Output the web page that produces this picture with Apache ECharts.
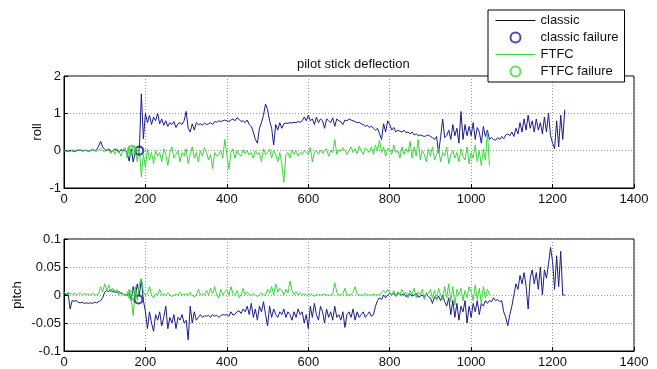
<!DOCTYPE html>
<html><head><meta charset="utf-8">
<script src="https://cdn.jsdelivr.net/npm/echarts@6/dist/echarts.min.js"></script>
<style>html,body{margin:0;padding:0;background:#fff}#c{width:657px;height:369px}</style>
</head><body><div id="c"></div>
<script>
// sample spacing of the time axis (x values are i*STEP)
const STEP = 5;
const xTicks = [0, 200, 400, 600, 800, 1000, 1200, 1400];
const rollTicks = [-1, 0, 1, 2];
const pitchTicks = [-0.1, -0.05, 0, 0.05, 0.1];

const classicRoll = [
 0.02,0.0,-0.02,0.01,0.0,-0.03,0.01,0.0,0.02,-0.01, 0.0,0.01,-0.02,0.0,0.03,0.0,0.02,0.12,0.25,0.1,
 0.03,0.0,0.05,-0.02,0.0,0.04,0.02,-0.05,0.03,0.0, 0.02,-0.05,-0.28,0.05,-0.3,-0.05,0.0,0.0,1.52,0.32,
 1.0,0.75,0.95,0.7,0.9,0.8,1.0,0.72,0.85,0.68, 0.8,0.65,0.75,0.7,0.78,0.62,0.72,0.75,0.7,0.8,
 1.05,0.6,0.5,0.72,0.55,0.75,0.7,0.72,0.68,0.74, 0.7,0.72,0.75,0.7,0.78,0.76,0.8,0.78,0.8,0.82,
 0.8,0.78,0.82,0.85,0.8,0.88,0.84,0.78,0.8,0.75, 0.82,0.7,0.65,0.5,0.3,0.2,0.6,0.75,0.95,1.25,
 1.1,0.8,0.6,0.15,0.7,0.55,0.75,0.6,0.72,0.74, 0.73,0.75,0.74,0.76,0.75,0.78,0.76,0.8,0.9,0.8,
 0.95,0.8,0.85,0.7,0.9,0.75,0.85,0.8,0.6,0.85, 0.8,0.75,0.88,0.65,0.85,0.8,0.78,0.7,0.82,0.8,
 0.85,0.82,0.8,0.78,0.75,0.76,0.72,0.7,0.65,0.68, 0.62,0.66,0.6,0.55,0.6,0.45,0.3,0.72,0.5,0.8,
 0.7,0.55,0.62,0.5,0.55,0.52,0.5,0.55,0.48,0.5, 0.45,0.5,0.42,0.45,0.4,0.42,0.4,0.38,0.4,0.42,
 0.38,0.35,0.3,0.38,-0.05,0.35,0.85,0.35,0.4,0.55, 0.3,0.7,0.4,0.6,0.2,1.05,0.3,0.7,0.4,0.65,
 0.4,0.75,0.3,0.62,0.5,0.2,0.65,0.38,0.55,0.3, 0.35,0.3,0.28,0.35,0.3,0.38,0.32,0.42,0.45,0.4,
 0.5,0.38,0.6,0.45,0.75,0.5,0.85,0.55,0.95,0.6, 0.8,0.5,0.85,0.55,0.75,0.45,0.9,0.5,1.0,0.4,
 0.2,0.05,0.8,0.1,0.95,0.3,1.1
];
const ftfcRoll = [
 0.0,-0.02,0.01,-0.03,0.02,0.0,-0.02,0.03,0.0,-0.01, 0.02,0.0,-0.03,0.01,0.04,0.0,-0.02,0.02,0.05,0.0,
 -0.03,0.04,0.0,-0.08,0.02,-0.1,0.05,-0.02,-0.15,0.03, 0.08,-0.2,0.1,-0.12,0.12,0.05,-0.3,0.08,-0.7,-0.1,
 -0.45,0.05,-0.25,-0.05,-0.35,0.0,-0.15,-0.05,-0.3,0.05, -0.1,-0.4,-0.05,0.1,-0.2,-0.1,0.0,-0.3,-0.05,-0.15,
 0.05,-0.35,-0.1,0.1,-0.2,-0.05,-0.3,0.0,-0.15,0.08, -0.05,-0.25,-0.1,-0.48,-0.05,-0.15,-0.1,0.0,-0.2,0.3,
 -0.1,-0.5,-0.05,0.05,-0.2,0.0,-0.1,-0.15,0.02,-0.08, 0.0,-0.12,-0.05,-0.2,0.0,-0.1,-0.05,-0.3,0.05,-0.1,
 -0.05,0.05,-0.2,0.0,-0.1,-0.3,-0.05,-0.35,-0.85,-0.1, -0.05,-0.2,0.02,-0.1,0.0,-0.15,-0.05,-0.1,0.0,-0.05,
 -0.1,0.08,-0.3,-0.05,0.0,-0.1,0.02,-0.08,0.0,0.05, -0.15,0.0,-0.05,0.3,-0.1,0.02,-0.02,0.08,0.0,-0.1,
 0.0,0.1,-0.05,0.05,-0.08,0.12,0.0,-0.1,0.08,0.02, -0.05,0.1,-0.1,0.15,0.0,0.28,-0.05,0.1,-0.15,0.05,
 0.05,-0.1,0.15,-0.05,0.0,-0.2,0.1,-0.1,0.05,-0.05, 0.25,-0.2,0.1,-0.15,0.3,-0.25,0.0,-0.1,-0.3,0.05,
 -0.15,0.1,-0.25,-0.1,0.05,-0.3,-0.05,-0.15,0.1,-0.35, -0.1,0.0,-0.2,-0.05,-0.3,0.05,-0.15,-0.25,0.1,-0.35,
 -0.05,-0.2,0.15,-0.3,0.0,-0.4,0.05,-0.25,0.5,-0.4
];
const classicPitch = [
 0.003,0.0,0.004,-0.025,-0.01,-0.011,-0.01,-0.013,-0.014,-0.013, -0.015,-0.014,-0.015,-0.014,-0.015,-0.013,-0.014,-0.012,-0.01,-0.005,
 0.005,0.008,0.006,0.01,0.005,0.008,0.004,0.006,0.003,0.002, 0.0,0.0,0.004,-0.01,0.015,-0.005,0.02,0.0,0.027,-0.01,
 -0.03,-0.06,-0.03,-0.05,-0.065,-0.035,-0.045,-0.03,-0.055,-0.04, -0.02,-0.06,-0.04,-0.05,-0.035,-0.06,-0.04,-0.045,-0.035,-0.05,
 -0.045,-0.08,-0.02,-0.05,-0.03,-0.045,-0.04,-0.035,-0.04,-0.037, -0.038,-0.036,-0.04,-0.035,-0.038,-0.036,-0.04,-0.037,-0.035,-0.036,
 -0.035,-0.038,-0.03,-0.036,-0.034,-0.03,-0.028,-0.033,-0.025,-0.03, -0.02,-0.035,-0.015,-0.04,-0.025,-0.045,-0.02,-0.03,-0.012,-0.035,
 -0.055,-0.02,-0.04,-0.025,-0.035,-0.04,-0.03,-0.035,-0.025,-0.04, -0.03,-0.035,-0.045,-0.03,-0.04,-0.025,-0.035,-0.03,-0.05,-0.035,
 -0.06,-0.02,-0.04,-0.015,-0.035,-0.045,-0.02,-0.03,-0.05,-0.025, -0.04,-0.03,-0.045,-0.02,-0.04,-0.035,-0.045,-0.03,-0.058,-0.035,
 -0.03,-0.04,-0.025,-0.045,-0.03,-0.04,-0.035,-0.03,-0.04,-0.035, -0.03,-0.038,-0.035,-0.02,-0.01,-0.005,-0.008,0.0,-0.005,0.0,
 0.003,0.0,0.004,-0.002,0.003,0.001,0.0,0.002,-0.003,0.0, 0.002,-0.002,0.0,0.003,-0.004,-0.002,0.0,-0.005,0.002,-0.003,
 -0.005,-0.015,-0.003,-0.008,-0.002,-0.01,0.0,-0.012,-0.02,-0.005, -0.035,-0.01,-0.04,-0.015,-0.045,-0.02,-0.03,-0.01,-0.05,-0.02,
 -0.04,-0.015,-0.03,-0.01,-0.035,-0.015,-0.02,-0.01,-0.015,-0.01, -0.012,-0.005,-0.01,-0.008,-0.012,-0.01,-0.03,-0.04,-0.055,-0.035,
 -0.02,0.0,0.02,0.01,0.035,0.02,0.04,0.015,-0.025,0.03, 0.045,0.02,0.04,0.01,0.05,0.0,0.045,0.03,0.055,0.085,
 0.06,0.01,0.07,0.015,0.078,0.0,0.0
];
const ftfcPitch = [
 0.005,0.002,0.0,0.004,0.001,0.003,0.0,0.002,0.004,0.0, 0.003,0.001,0.002,0.0,0.003,0.001,0.0,0.002,0.015,0.005,
 0.02,0.008,0.018,0.005,0.012,0.003,0.01,0.0,0.005,0.002, 0.0,0.003,0.01,-0.005,-0.037,0.015,-0.01,0.02,0.03,0.005,
 0.0,0.003,0.015,0.0,-0.005,0.002,0.0,0.01,0.0,0.002, 0.0,0.004,0.0,-0.003,0.0,0.002,0.0,0.005,0.0,0.001,
 0.002,0.0,0.005,0.0,-0.004,0.0,0.01,0.0,0.003,0.0, 0.008,0.0,0.012,0.002,0.015,0.0,-0.005,0.01,0.0,0.006,
 0.01,0.0,0.015,0.002,0.0,0.008,-0.005,0.0,0.012,0.0, 0.005,0.0,0.0,0.003,0.0,-0.003,0.0,0.004,0.0,0.0,
 0.01,0.003,0.015,0.0,0.02,0.005,0.012,0.008,0.0,0.01, 0.003,0.025,0.008,0.0,0.006,0.0,0.004,0.0,0.002,0.0,
 0.0,0.002,0.0,-0.002,0.0,0.001,0.0,0.0,0.002,0.0, 0.0,0.0,0.001,0.022,0.005,0.0,0.0,0.002,0.012,0.0,
 0.0,0.0,0.005,0.015,0.002,0.0,0.0,0.0,0.003,0.0, 0.0,0.0,0.002,0.0,0.001,0.0,0.005,0.008,0.003,0.01,
 0.005,0.0,0.008,-0.003,0.006,0.0,0.01,0.002,0.005,-0.005, 0.008,0.0,0.012,-0.005,0.006,0.0,0.01,-0.008,0.005,0.002,
 0.01,-0.005,0.008,-0.01,0.012,0.0,-0.008,0.015,-0.005,0.02, -0.012,0.015,-0.018,0.01,0.0,0.012,-0.01,0.008,-0.005,0.015,
 0.005,-0.01,0.018,-0.008,0.012,-0.015,0.015,-0.005,0.01,0.0
];
// failure markers [x, y]
const classicFailRoll = [[185, 0.0]];
const ftfcFailRoll = [[167, 0.02]];
const classicFailPitch = [[183, -0.008]];
const ftfcFailPitch = [[168, 0.0]];

const CLASSIC = '#1c1c8a';
const FTFC = '#3ad83a';
const FONT = '"Liberation Sans", Arial, sans-serif';

function pairs(vals) { return vals.map((v, i) => [i * STEP, v]); }

const chart = echarts.init(document.getElementById('c'), null, {renderer: 'canvas'});

function xAxis(gi) {
  return {
    gridIndex: gi, type: 'value', min: 0, max: 1400, interval: 200,
    axisLine: {show: true, onZero: false, lineStyle: {color: '#000', width: 1}},
    axisTick: {show: true, inside: true, length: 4, lineStyle: {color: '#000'}},
    axisLabel: {color: '#111', fontSize: 13, fontFamily: FONT, margin: 5,
      formatter: v => xTicks.indexOf(v) >= 0 ? String(v) : ''},
    splitLine: {show: true, lineStyle: {color: '#999', type: [1, 2], width: 1}}
  };
}
function yAxis(gi, min, max, interval, name, gap, ticks) {
  return {
    gridIndex: gi, type: 'value', min, max, interval,
    name, nameLocation: 'middle', nameGap: gap, nameMoveOverlap: false,
    nameTextStyle: {color: '#111', fontSize: 13, fontFamily: FONT},
    axisLine: {show: true, lineStyle: {color: '#000', width: 1}},
    axisTick: {show: true, inside: true, length: 4, lineStyle: {color: '#000'}},
    axisLabel: {color: '#111', fontSize: 13, fontFamily: FONT, margin: 3,
      formatter: v => { const t = ticks.find(k => Math.abs(k - v) < 1e-9); return t === undefined ? '' : String(t); }},
    splitLine: {show: true, lineStyle: {color: '#999', type: [1, 2], width: 1}}
  };
}
function lineSeries(name, vals, color, gi, w) {
  return {name, type: 'line', xAxisIndex: gi, yAxisIndex: gi, data: pairs(vals),
    symbol: 'none', showSymbol: false, animation: false,
    lineStyle: {color, width: w}, itemStyle: {color}};
}
function failSeries(name, data, color, gi) {
  return {name, type: 'scatter', xAxisIndex: gi, yAxisIndex: gi, data,
    symbol: 'circle', symbolSize: 8, animation: false, z: 5,
    itemStyle: {color: 'rgba(0,0,0,0)', borderColor: color, borderWidth: 2.2}};
}

chart.setOption({
  backgroundColor: '#fff',
  animation: false,
  title: {text: 'pilot stick deflection', left: 292, top: 53,
    textStyle: {fontSize: 13, fontWeight: 'normal', color: '#111', fontFamily: FONT}},
  legend: {
    orient: 'vertical', left: 488, top: 10,
    backgroundColor: '#fff', borderColor: '#000', borderWidth: 1,
    padding: [4, 6, 4, 7], itemGap: 4, itemWidth: 40, itemHeight: 10,
    textStyle: {fontSize: 13, color: '#111', fontFamily: FONT},
    data: [
      {name: 'classic', itemStyle: {opacity: 0}, lineStyle: {color: '#111', width: 1}},
      'classic failure',
      {name: 'FTFC', itemStyle: {opacity: 0}, lineStyle: {color: FTFC, width: 1}},
      'FTFC failure'
    ]
  },
  grid: [
    {left: 64, right: 23, top: 76, height: 112, show: true, borderColor: '#000', borderWidth: 1, backgroundColor: '#fff'},
    {left: 64, right: 23, top: 239, height: 113, show: true, borderColor: '#000', borderWidth: 1, backgroundColor: '#fff'}
  ],
  xAxis: [xAxis(0), xAxis(1)],
  yAxis: [
    yAxis(0, -1, 2, 1, 'roll', 20, rollTicks),
    yAxis(1, -0.1, 0.1, 0.05, 'pitch', 40, pitchTicks)
  ],
  series: [
    lineSeries('classic', classicRoll, CLASSIC, 0, 1),
    lineSeries('FTFC', ftfcRoll, FTFC, 0, 1),
    failSeries('classic failure', classicFailRoll, CLASSIC, 0),
    failSeries('FTFC failure', ftfcFailRoll, FTFC, 0),
    lineSeries('classic', classicPitch, CLASSIC, 1, 1),
    lineSeries('FTFC', ftfcPitch, FTFC, 1, 1),
    failSeries('classic failure', classicFailPitch, CLASSIC, 1),
    failSeries('FTFC failure', ftfcFailPitch, FTFC, 1)
  ]
});
</script></body></html>
